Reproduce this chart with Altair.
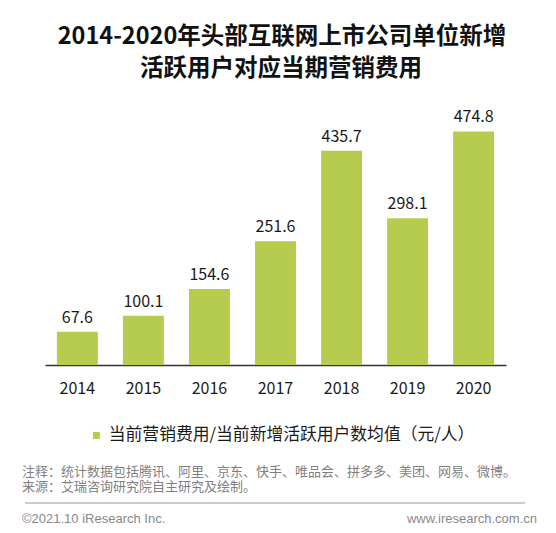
import altair as alt
import pandas as pd

years = ["2014", "2015", "2016", "2017", "2018", "2019", "2020"]
values = [67.6, 100.1, 154.6, 251.6, 435.7, 298.1, 474.8]
series_name = "当前营销费用/当前新增活跃用户数均值（元/人）"
title_lines = ["2014-2020年头部互联网上市公司单位新增", "活跃用户对应当期营销费用"]
note_lines = [
    "注释：统计数据包括腾讯、阿里、京东、快手、唯品会、拼多多、美团、网易、微博。",
    "来源：艾瑞咨询研究院自主研究及绘制。",
]
footer_left = "©2021.10 iResearch Inc."
footer_right = "www.iresearch.com.cn"

FONT = "Noto Sans CJK SC"
GREEN = "#b5cc4f"

df = pd.DataFrame({"year": years, "value": values, "series": [series_name] * len(years)})

x_enc = alt.X(
    "year:N",
    sort=years,
    title=None,
    scale=alt.Scale(paddingInner=0.38, paddingOuter=0.18),
    axis=alt.Axis(
        labelAngle=0,
        labelFont=FONT,
        labelFontSize=16,
        labelColor="#1a1a1a",
        labelPadding=15,
        ticks=False,
        domainColor="#333333",
        domainWidth=1.5,
        grid=False,
    ),
)
y_enc = alt.Y("value:Q", scale=alt.Scale(domain=[0, 500]), axis=None)

bars = alt.Chart(df).mark_bar(color=GREEN).encode(
    x=x_enc,
    y=y_enc,
    color=alt.Color(
        "series:N",
        scale=alt.Scale(range=[GREEN]),
        legend=alt.Legend(
            title=None,
            orient="none",
            legendX=43,
            legendY=308,
            symbolType="square",
            symbolSize=49,
            symbolStrokeWidth=0,
            labelFont=FONT,
            labelFontSize=16.8,
            labelColor="#1a1a1a",
            labelOffset=4,
            labelLimit=500,
        ),
    ),
)

labels = alt.Chart(df).mark_text(
    font=FONT, fontSize=16, color="#1a1a1a", baseline="alphabetic", dy=-9
).encode(x=alt.X("year:N", sort=years), y=y_enc, text=alt.Text("value:Q", format=".1f"))

title1 = alt.Chart(pd.DataFrame({"t": [title_lines[0]]})).mark_text(
    font=FONT, fontSize=23.5, fontWeight="bold", color="#111111", align="center", baseline="middle"
).encode(text="t:N", x=alt.value(237), y=alt.value(-82))
title2 = alt.Chart(pd.DataFrame({"t": [title_lines[1]]})).mark_text(
    font=FONT, fontSize=23.5, fontWeight="bold", color="#111111", align="center", baseline="middle"
).encode(text="t:N", x=alt.value(236), y=alt.value(-50))

note1 = alt.Chart(pd.DataFrame({"t": [note_lines[0]]})).mark_text(
    font=FONT, fontSize=13, color="#7f7f7f", align="left", baseline="middle"
).encode(text="t:N", x=alt.value(-23), y=alt.value(353))
note2 = alt.Chart(pd.DataFrame({"t": [note_lines[1]]})).mark_text(
    font=FONT, fontSize=13, color="#7f7f7f", align="left", baseline="middle"
).encode(text="t:N", x=alt.value(-23), y=alt.value(368))

sep = alt.Chart(pd.DataFrame({"a": [0]})).mark_rule(color="#9a9a9a", strokeWidth=1).encode(
    x=alt.value(-20), x2=alt.value(480), y=alt.value(384)
)

foot1 = alt.Chart(pd.DataFrame({"t": [footer_left]})).mark_text(
    font="Liberation Sans", fontSize=13, color="#888888", align="left", baseline="middle"
).encode(text="t:N", x=alt.value(-23), y=alt.value(400))
foot2 = alt.Chart(pd.DataFrame({"t": [footer_right]})).mark_text(
    font="Liberation Sans", fontSize=13, color="#888888", align="right", baseline="middle"
).encode(text="t:N", x=alt.value(492), y=alt.value(400))

chart = (
    alt.layer(bars, labels, title1, title2, note1, note2, sep, foot1, foot2)
    .properties(
        width=461,
        height=246,
        autosize=alt.AutoSizeParams(type="none"),
        padding={"left": 37, "top": 111, "right": 42, "bottom": 160},
        background="white",
    )
    .configure_view(stroke=None)
)

chart.save("out.html", embed_options={"renderer": "svg", "actions": False})
